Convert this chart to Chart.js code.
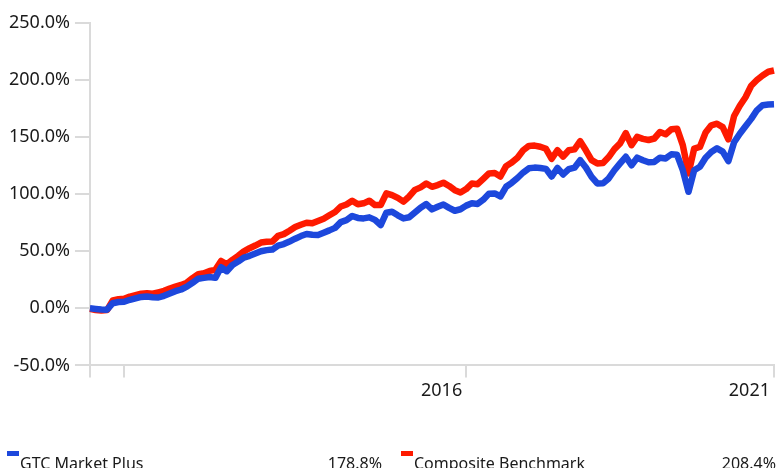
<!DOCTYPE html>
<html lang="en">
<head>
  <meta charset="UTF-8" />
  <title>GTC Market Plus vs Composite Benchmark</title>
  <script src="https://cdn.jsdelivr.net/npm/chart.js"></script>
  <style>
    html, body {
      margin: 0;
      padding: 0;
      background: #fff;
      overflow: hidden;
    }
    .wrap {
      position: relative;
      width: 777px;
      height: 468px;
      font-family: 'Noto Sans', sans-serif;
      color: #1a1a1a;
    }
    .legend {
      position: absolute;
      top: 453px;
      left: 0;
      width: 777px;
      height: 20px;
      font-size: 16px;
      line-height: 20px;
    }
    .legend .item {
      position: absolute;
      top: 0;
      white-space: nowrap;
    }
    .legend .sw {
      position: absolute;
      width: 12px;
      height: 5px;
      top: -2px;
    }
    .legend .val {
      position: absolute;
      top: 0;
      text-align: right;
    }
  </style>
</head>
<body>
  <div class="wrap">
    <canvas id="chart" width="777" height="468"></canvas>
    <div class="legend" id="legend"></div>
  </div>

  <script>
    // monthly points, mid 2011 .. mid 2021
    const startYear = 2011;
    const startMonth = 6;
    const pointCount = 121;

    const gtcMarketPlus = [
      0, -0.5, -1, -1.2, 4.5, 5.5, 5.8, 7.5, 8.8, 10,
      10.4, 9.8, 9.5, 11, 13, 15, 16.5, 19, 22.4, 26,
      26.7, 27.5, 26.7, 36, 32.5, 38, 41, 44.5, 46, 48,
      50, 51, 51.5, 55, 56.3, 58.5, 61, 63.3, 65.2, 64.4,
      64.3, 66.3, 68.3, 70.5, 75.5, 77.3, 80.9, 79.2, 78.8, 79.7,
      77.5, 73, 83.8, 84.6, 81.5, 78.8, 79.8, 84, 88.2, 91.4,
      86.7, 89, 91, 88, 85.5, 86.8, 90, 92, 91.5, 95.2,
      100.5, 100.7, 98, 106.5, 110, 114.2, 119, 122.7, 123.3, 123,
      122.2, 115.5, 123, 117.3, 121.9, 123.2, 129.8, 123.4, 115.2, 109.4,
      109.5, 113.8, 121, 127, 132.8, 125.4, 132, 129.8, 128, 128.3,
      132, 131.3, 135, 134.5, 121, 102.1, 121, 124, 132, 137,
      140.2, 137.3, 129, 145.5, 153, 159.5, 166, 173.5, 178, 178.6,
      178.8
    ];

    const compositeBenchmark = [
      -0.5, -1.5, -2, -1.5, 7, 8, 8.3, 10.3, 11.5, 12.8,
      13.3, 12.8, 14, 15.3, 17.3, 19, 20.5, 22.5, 26.5, 30,
      30.8, 32.8, 33.7, 41.5, 38.5, 42.5, 46, 50, 52.7, 55,
      57.6, 58.3, 58.5, 63.5, 65, 68, 71.2, 73.2, 75, 74.5,
      76.5, 78.5, 81.5, 84.4, 89.2, 91, 94.3, 91.2, 92, 94.3,
      90.5, 90.5, 100.7, 99.2, 96.8, 93.5, 98, 103.8, 106, 109.4,
      106.5, 108, 110.1, 107.2, 103.5, 101.5, 104.5, 109.4, 108.8, 113.5,
      118.2, 118.5, 115.5, 124.6, 127.8, 132, 138.5, 142.3, 142.6, 141.6,
      139.8, 131, 138.5, 133, 138.5, 139.3, 146.4, 138.5, 129.8, 127,
      127.3, 132.5, 139.5, 144.5, 153.5, 142.9, 150.2, 148.5, 147.5, 148.8,
      154.5, 152.5, 156.9, 157.4, 143, 118.2, 140, 141.4, 154, 160.4,
      161.8, 158.8, 148, 168.5, 177.5, 185, 195, 200, 204, 207.3,
      208.4
    ];

    const seriesNames = ['GTC Market Plus', 'Composite Benchmark'];
    const seriesColors = ['#1d48dc', '#fe1a00'];

    const xTickIndex = [0, 6, 66, 120];
    const xTickText = ['', '', '2016', '2021'];

    const yTicks = [-50, 0, 50, 100, 150, 200, 250];

    const labels = [];
    for (let i = 0; i < pointCount; i++) {
      const m = startMonth - 1 + i;
      const y = startYear + Math.floor(m / 12);
      labels.push(y + '-' + String((m % 12) + 1).padStart(2, '0'));
    }

    const axisGrey = '#dadada';
    const textCol = '#1a1a1a';
    const tickFont = { family: "'Noto Sans', sans-serif", size: 18 };

    new Chart(document.getElementById('chart'), {
      type: 'line',
      data: {
        labels: labels,
        datasets: [
          {
            label: seriesNames[0],
            data: gtcMarketPlus,
            borderColor: seriesColors[0],
            backgroundColor: seriesColors[0],
            borderWidth: 6.5,
            pointRadius: 0,
            tension: 0,
            borderJoinStyle: 'round',
          },
          {
            label: seriesNames[1],
            data: compositeBenchmark,
            borderColor: seriesColors[1],
            backgroundColor: seriesColors[1],
            borderWidth: 6.5,
            pointRadius: 0,
            tension: 0,
            borderJoinStyle: 'round',
          },
        ],
      },
      options: {
        responsive: false,
        animation: false,
        layout: { padding: { top: 23, left: 4, right: 1, bottom: 63 } },
        plugins: {
          legend: { display: false },
          tooltip: { enabled: false },
        },
        scales: {
          x: {
            type: 'category',
            offset: false,
            afterBuildTicks: (scale) => {
              scale.ticks = xTickIndex.map(v => ({ value: v }));
            },
            ticks: {
              autoSkip: false,
              maxRotation: 0,
              align: 'end',
              labelOffset: -4,
              padding: 3,
              color: textCol,
              font: tickFont,
              callback: (v) => xTickText[xTickIndex.indexOf(v)],
            },
            grid: {
              drawOnChartArea: false,
              drawTicks: true,
              tickLength: 12,
              color: axisGrey,
              lineWidth: 2,
            },
            border: { display: true, color: axisGrey, width: 2 },
          },
          y: {
            min: yTicks[0],
            max: yTicks[yTicks.length - 1],
            afterBuildTicks: (scale) => {
              scale.ticks = yTicks.map(v => ({ value: v }));
            },
            ticks: {
              padding: 5,
              color: textCol,
              font: tickFont,
              callback: (v) => v.toFixed(1) + '%',
            },
            grid: {
              drawOnChartArea: false,
              drawTicks: true,
              tickLength: 15,
              color: axisGrey,
              lineWidth: 2,
            },
            border: { display: true, color: axisGrey, width: 2 },
          },
        },
      },
    });

    // legend with final values
    const legend = document.getElementById('legend');
    const finals = [gtcMarketPlus, compositeBenchmark].map(s => s[s.length - 1]);
    const colLeft = [7, 401];
    const colRight = [382, 776];
    seriesNames.forEach((name, i) => {
      const sw = document.createElement('div');
      sw.className = 'sw';
      sw.style.left = colLeft[i] + 'px';
      sw.style.background = seriesColors[i];
      legend.appendChild(sw);
      const item = document.createElement('div');
      item.className = 'item';
      item.style.left = (colLeft[i] + 13) + 'px';
      item.textContent = name;
      legend.appendChild(item);
      const val = document.createElement('div');
      val.className = 'val';
      val.style.left = (colRight[i] - 120) + 'px';
      val.style.width = '120px';
      val.textContent = finals[i].toFixed(1) + '%';
      legend.appendChild(val);
    });
  </script>
</body>
</html>
